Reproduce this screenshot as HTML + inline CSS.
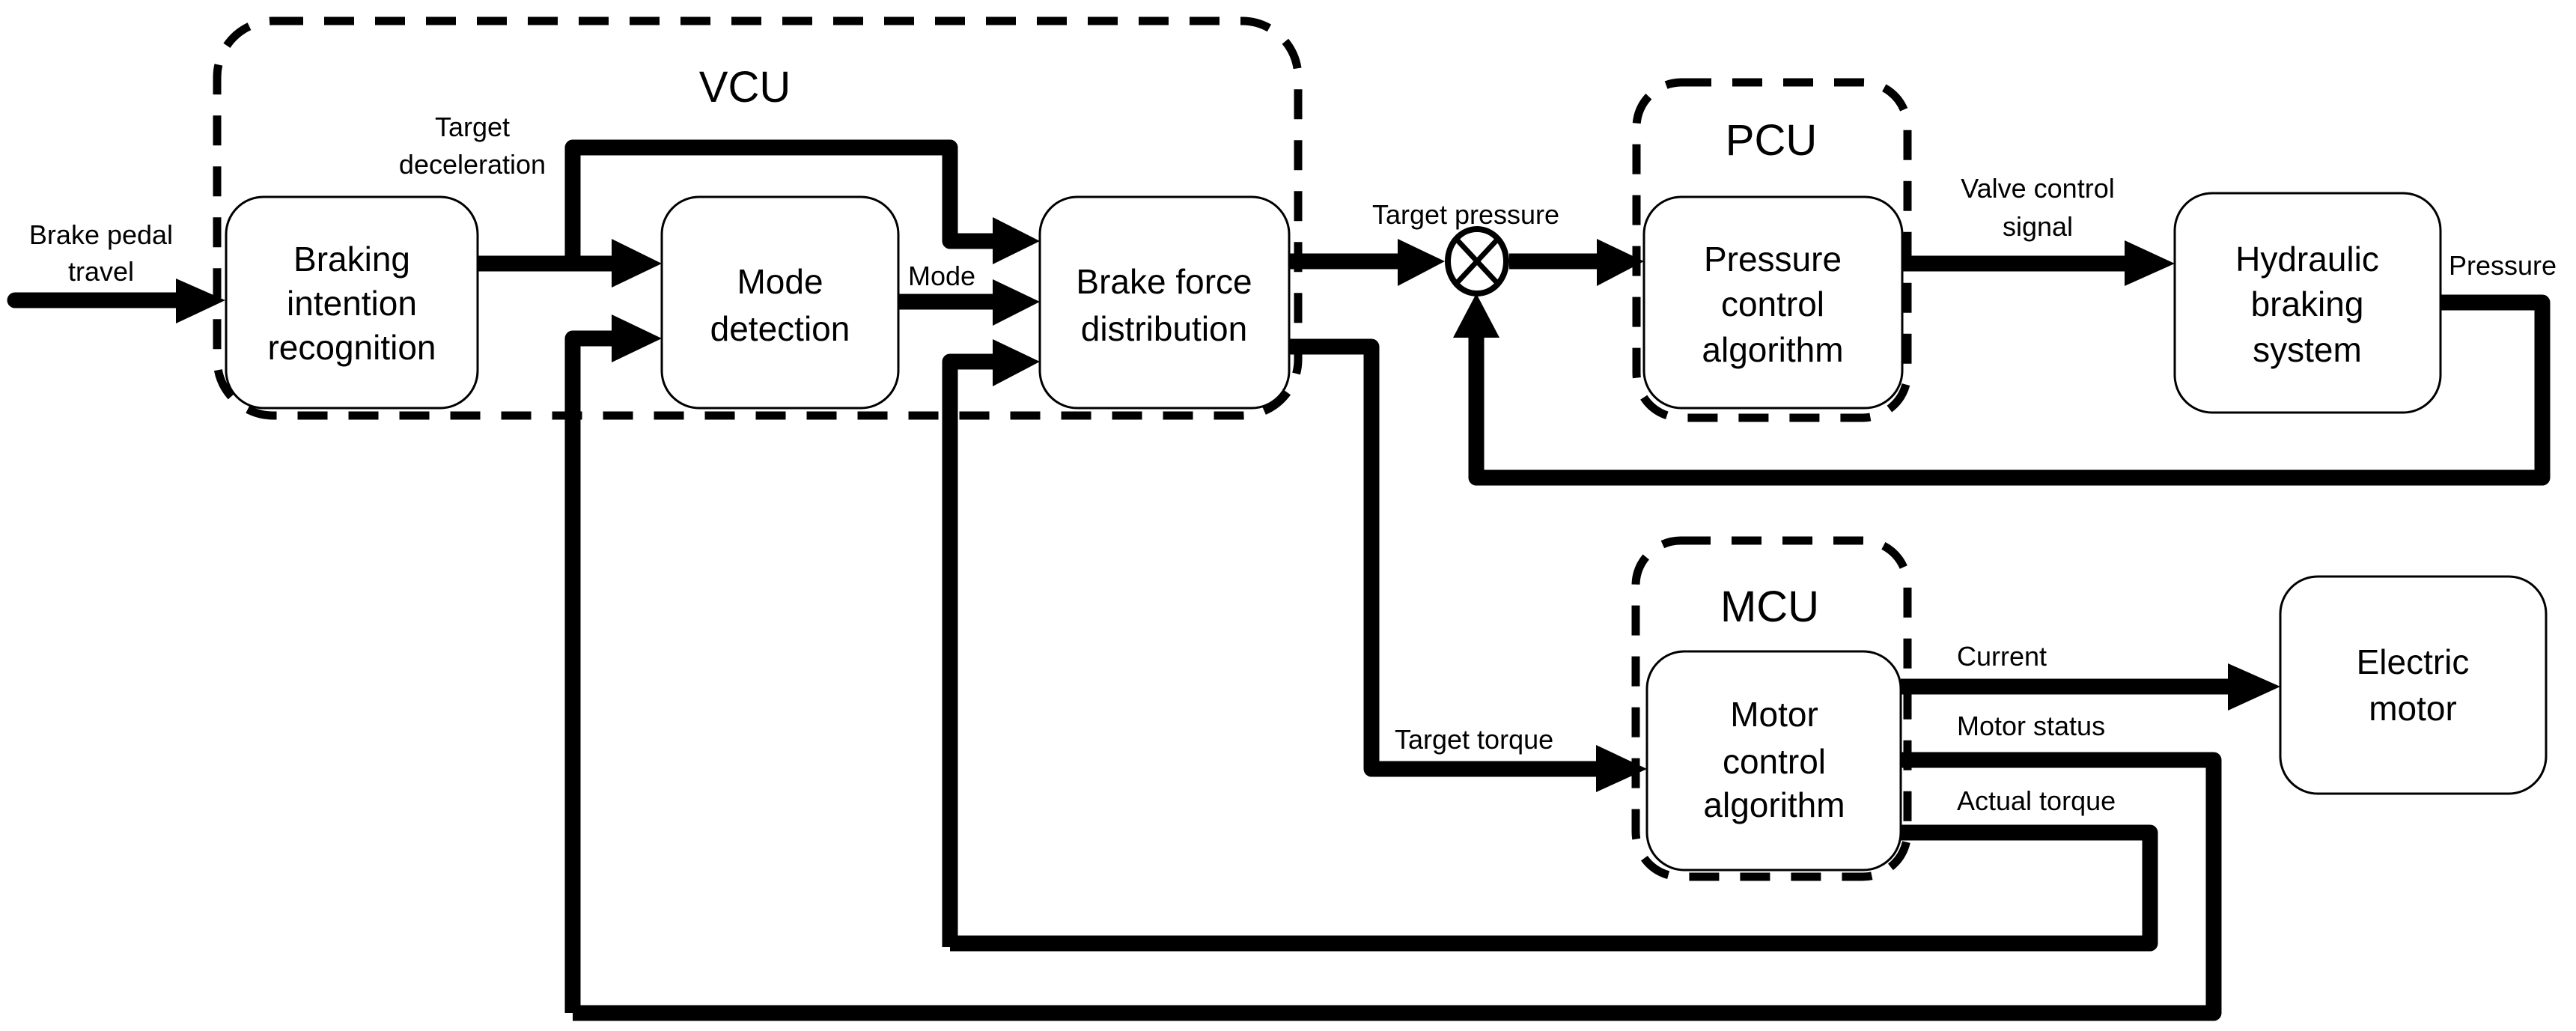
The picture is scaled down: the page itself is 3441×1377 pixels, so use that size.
<!DOCTYPE html>
<html><head><meta charset="utf-8"><style>
html,body{margin:0;padding:0;background:#fff;}
svg{display:block;}
text{font-family:"Liberation Sans",sans-serif;fill:#000;}
.bl{font-size:46px;text-anchor:middle;}
.sl{font-size:36px;}
.tl{font-size:58px;text-anchor:middle;}
</style></head><body>
<svg width="3441" height="1377" viewBox="0 0 3441 1377" xmlns="http://www.w3.org/2000/svg">
<!-- dashed containers -->
<g fill="none" stroke="#000" stroke-width="11" stroke-dasharray="40 28">
<rect x="290" y="28" width="1444" height="527" rx="75"/>
<rect x="2186" y="110" width="362" height="448" rx="60"/>
<rect x="2185" y="722" width="363" height="449" rx="60"/>
</g>
<!-- boxes -->
<g fill="#fff" stroke="#000" stroke-width="3">
<rect x="302" y="263" width="336" height="282" rx="50"/>
<rect x="884" y="263" width="316" height="282" rx="50"/>
<rect x="1389" y="263" width="333" height="282" rx="50"/>
<rect x="2196" y="263" width="345" height="282" rx="50"/>
<rect x="2905" y="258" width="355" height="293" rx="50"/>
<rect x="2200" y="870" width="339" height="292" rx="50"/>
<rect x="3046" y="770" width="355" height="290" rx="50"/>
</g>
<!-- connector lines -->
<g fill="none" stroke="#000" stroke-width="21" stroke-linejoin="round">
<line x1="20" y1="401" x2="240" y2="401" stroke-linecap="round"/>
<line x1="638" y1="352" x2="825" y2="352"/>
<polyline points="765,352 765,197 1269,197 1269,322 1330,322"/>
<line x1="1200" y1="403" x2="1330" y2="403"/>
<polyline points="1269,1265 1269,483 1330,483"/>
<polyline points="765,1353 765,452 825,452"/>
<line x1="1722" y1="349" x2="1870" y2="349"/>
<line x1="2016" y1="349" x2="2136" y2="349"/>
<line x1="2541" y1="352" x2="2842" y2="352"/>
<polyline points="3260,404 3396,404 3396,638 1972,638 1972,448"/>
<polyline points="1722,463 1832,463 1832,1027 2135,1027"/>
<line x1="2539" y1="917" x2="2980" y2="917"/>
<polyline points="2539,1015 2957,1015 2957,1353 765,1353"/>
<polyline points="2539,1112 2872,1112 2872,1260 1269,1260"/>
</g>
<!-- arrowheads -->
<g fill="#000">
<polygon points="235,372 301,401 235,432"/>
<polygon points="817,319 884,352 817,384"/>
<polygon points="817,420 884,452 817,484"/>
<polygon points="1326,290 1389,322 1326,353"/>
<polygon points="1326,373 1389,403 1326,435"/>
<polygon points="1326,453 1389,483 1326,516"/>
<polygon points="1867,319 1930,349 1867,382"/>
<polygon points="2133,319 2196,349 2133,382"/>
<polygon points="2838,321 2905,352 2838,382"/>
<polygon points="1941,451 1972,392 2003,451"/>
<polygon points="2132,995 2200,1027 2132,1058"/>
<polygon points="2976,886 3046,917 2976,949"/>
</g>
<!-- summing junction -->
<ellipse cx="1973" cy="349" rx="39" ry="43" fill="#fff" stroke="#000" stroke-width="8"/>
<line x1="1946" y1="320" x2="2000" y2="378" stroke="#000" stroke-width="7"/>
<line x1="2000" y1="320" x2="1946" y2="378" stroke="#000" stroke-width="7"/>
<!-- titles -->
<text class="tl" x="995" y="136">VCU</text>
<text class="tl" x="2366" y="207">PCU</text>
<text class="tl" x="2364" y="830">MCU</text>
<!-- box labels -->
<g class="bl">
<text x="470" y="362">Braking</text><text x="470" y="421">intention</text><text x="470" y="480">recognition</text>
<text x="1042" y="392">Mode</text><text x="1042" y="455">detection</text>
<text x="1555" y="392">Brake force</text><text x="1555" y="455">distribution</text>
<text x="2368" y="362">Pressure</text><text x="2368" y="422">control</text><text x="2368" y="483">algorithm</text>
<text x="3082" y="362">Hydraulic</text><text x="3082" y="422">braking</text><text x="3082" y="483">system</text>
<text x="2370" y="970">Motor</text><text x="2370" y="1033">control</text><text x="2370" y="1091">algorithm</text>
<text x="3223" y="900">Electric</text><text x="3223" y="962">motor</text>
</g>
<!-- small labels -->
<g class="sl">
<text x="135" y="326" text-anchor="middle">Brake pedal</text>
<text x="135" y="375" text-anchor="middle">travel</text>
<text x="631" y="182" text-anchor="middle">Target</text>
<text x="631" y="232" text-anchor="middle">deceleration</text>
<text x="1258" y="381" text-anchor="middle">Mode</text>
<text x="1958" y="299" text-anchor="middle">Target pressure</text>
<text x="2722" y="264" text-anchor="middle">Valve control</text>
<text x="2722" y="315" text-anchor="middle">signal</text>
<text x="3271" y="367">Pressure</text>
<text x="1863" y="1000">Target torque</text>
<text x="2614" y="889">Current</text>
<text x="2614" y="982">Motor status</text>
<text x="2614" y="1082">Actual torque</text>
</g>
</svg>
</body></html>
